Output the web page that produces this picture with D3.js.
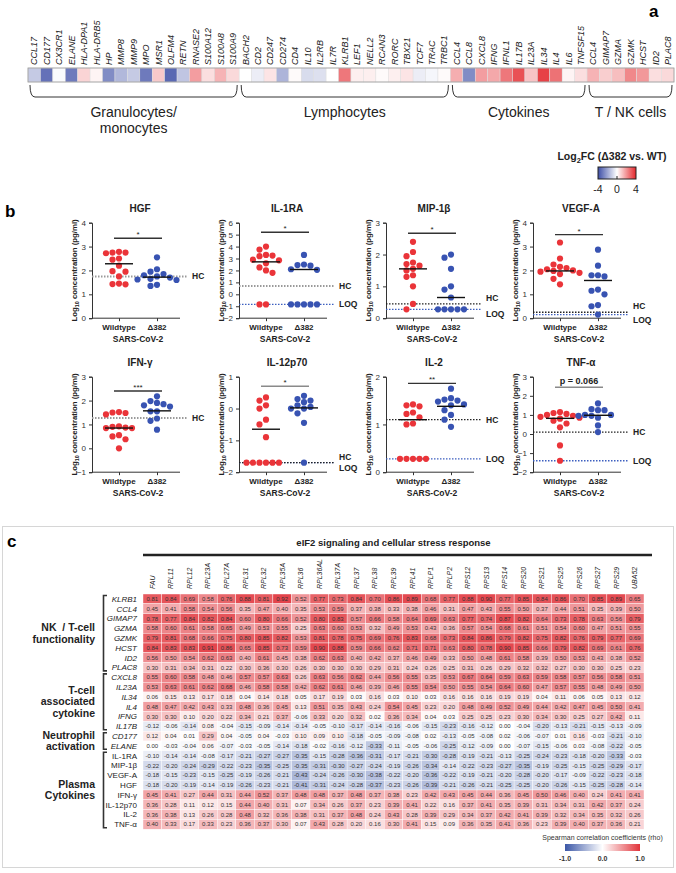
<!DOCTYPE html>
<html><head><meta charset="utf-8">
<script src="https://cdn.jsdelivr.net/npm/d3@7"></script>
<style>body{margin:0;background:#fff;} svg{display:block;font-family:"Liberation Sans",Arial,Helvetica,sans-serif;}</style>
</head><body>
<svg id="chart" width="676" height="873"></svg>
<script>
// ===================== DATA =====================
// ---- Panel a
const genesA = ["CCL17","CD177","CX3CR1","ELANE","HLA-DPA1","HLA-DRB5","HP","MMP8","MMP9","MPO","MSR1","OLFM4","RETN","RNASE2","S100A12","S100A8","S100A9",
  "BACH2","CD2","CD247","CD274","CD4","IL10","IL2RB","IL7R","KLRB1","LEF1","NELL2","RCAN3","RORC","TBX21","TCF7","TRAC","TRBC1",
  "CCL4","CCL8","CXCL8","IFNG","IFNL1","IL17B","IL23A","IL34","IL4","IL6","TNFSF15",
  "CCL4","GIMAP7","GZMA","GZMK","HCST","ID2","PLAC8"];
const log2fcA = [-1.2,-3.2,-0.1,-3.0,0.8,0.2,-2.6,-1.6,-1.2,-3.0,1.0,-3.4,-1.3,1.8,0.6,1.4,0.7,
  0.0,-0.4,0.5,-1.7,0.1,-0.8,-0.7,0.0,2.5,0.3,0.3,0.1,0.3,0.5,-0.4,-0.2,0.1,
  1.5,-2.6,1.8,1.6,2.5,3.2,1.1,3.5,2.6,0.2,0.6,
  1.4,0.9,1.2,2.2,1.9,0.6,0.7];
const groupNamesA = [["Granulocytes/","monocytes"],["Lymphocytes"],["Cytokines"],["T / NK cells"]];
const groupSizesA = [17,17,11,7];
const legendTicksA = [-4,0,4];

// ---- Panel b
const analytesB = ["HGF","IL-1RA","MIP-1β","VEGF-A","IFN-γ","IL-12p70","IL-2","TNF-α"];
const yMinB = [0,-2,0,0,-1,-2,0,-2];
const yMaxB = [4,6,3,4,3,1,2,3];
const categoriesB = ["Wildtype","Δ382"];
const wtB = [
  [2.75,2.78,2.72,2.75,2.45,2.5,2.2,1.97,1.95,1.75,1.42,1.45,1.43],
  [4.0,3.75,3.3,3.25,3.2,2.9,2.85,2.6,2.25,2.0,1.8,-0.85,-0.85],
  [2.4,2.08,1.95,1.75,1.7,1.65,1.55,1.5,1.35,1.3,1.0,0.45,0.28],
  [3.17,2.5,2.25,2.15,2.1,2.05,2.0,1.98,1.95,1.9,1.85,1.65,1.42],
  [1.52,1.48,1.5,1.42,0.92,0.87,0.85,0.85,0.9,0.55,0.5,0.38,0.0],
  [0.35,0.25,0.1,0.0,-0.35,-0.5,-0.9,-1.7,-1.7,-1.7,-1.7,-1.7,-1.7],
  [1.42,1.40,1.38,1.25,1.22,1.15,1.02,1.0,0.28,0.28,0.28,0.28,0.28],
  [1.15,1.1,1.05,1.0,0.95,0.9,0.85,0.8,0.7,0.55,0.35,-0.6,-1.4]
];
const d382B = [
  [2.55,2.05,1.95,1.85,1.8,1.75,1.7,1.65,1.62,1.6,1.35,1.4],
  [3.3,2.5,2.45,2.4,2.1,2.05,-0.85,-0.85,-0.85,-0.85,-0.85],
  [2.0,1.9,1.55,1.0,0.9,0.65,0.28,0.28,0.28,0.28,0.28],
  [2.87,2.2,1.8,1.8,1.75,1.2,1.15,1.0,0.55,0.5,0.15],
  [2.18,1.98,1.9,1.85,1.8,1.75,1.55,1.55,1.25,1.15,0.78],
  [0.4,0.3,0.25,0.2,0.1,0.05,0.0,0.0,-0.15,-0.45,-1.7],
  [1.75,1.55,1.52,1.5,1.48,1.42,1.4,1.3,1.2,1.1,0.95],
  [1.6,1.3,1.25,1.25,1.0,1.0,0.95,0.95,0.85,0.45,0.1]
];
const wtCenterB = [2.28,2.72,1.55,1.98,0.85,-0.65,1.1,0.82];
const d382CenterB = [1.72,2.08,0.65,1.58,1.57,0.02,1.38,0.98];
const hcB = [1.75,0.7,0.45,0.25,1.27,-1.7,1.1,0.1];
const loqB = [null,-0.85,0.28,0.15,null,-1.7,0.28,-1.4];
const sigTextB = ["*","*","*","*","***","*","**","p = 0.066"];
const sigYB = [3.35,5.2,2.67,3.5,2.4,0.7,1.86,2.45];

// ---- Panel c
const corrCols = ["FAU","RPL11","RPL12","RPL23A","RPL27A","RPL31","RPL32","RPL35A","RPL36","RPL36AL","RPL37A","RPL37","RPL38","RPL39","RPL41","RPLP1","RPLP2","RPS12","RPS13","RPS14","RPS20","RPS21","RPS25","RPS26","RPS27","RPS29","UBA52"];
const corrRows = ["KLRB1","CCL4","GIMAP7","GZMA","GZMK","HCST","ID2","PLAC8","CXCL8","IL23A","IL34","IL4","IFNG","IL17B","CD177","ELANE","IL-1RA","MIP-1β","VEGF-A","HGF","IFN-γ","IL-12p70","IL-2","TNF-α"];
const corrGroupNames = [["NK  / T-cell","functionality"],["T-cell","associated","cytokine"],["Neutrophil","activation"],["Plasma","Cytokines"]];
const corrGroupSizes = [8,6,2,8];
const corrValues = [
  [0.81,0.84,0.69,0.58,0.76,0.88,0.81,0.92,0.52,0.77,0.73,0.84,0.70,0.86,0.89,0.68,0.77,0.88,0.90,0.77,0.85,0.84,0.86,0.70,0.85,0.89,0.65],
  [0.45,0.41,0.58,0.54,0.56,0.35,0.47,0.40,0.35,0.53,0.59,0.37,0.38,0.33,0.38,0.46,0.31,0.47,0.43,0.55,0.50,0.37,0.44,0.51,0.35,0.39,0.50],
  [0.78,0.77,0.84,0.82,0.84,0.60,0.80,0.66,0.52,0.80,0.83,0.57,0.66,0.58,0.64,0.69,0.63,0.77,0.74,0.87,0.82,0.64,0.73,0.78,0.63,0.56,0.79],
  [0.58,0.60,0.61,0.58,0.65,0.49,0.53,0.55,0.25,0.63,0.60,0.53,0.32,0.49,0.53,0.43,0.36,0.57,0.54,0.68,0.61,0.51,0.54,0.60,0.47,0.51,0.55],
  [0.79,0.81,0.68,0.66,0.75,0.80,0.85,0.82,0.53,0.81,0.78,0.75,0.69,0.76,0.83,0.68,0.73,0.84,0.86,0.79,0.82,0.75,0.82,0.76,0.79,0.77,0.69],
  [0.84,0.83,0.83,0.91,0.86,0.65,0.85,0.73,0.59,0.90,0.88,0.59,0.66,0.62,0.71,0.71,0.63,0.80,0.78,0.90,0.85,0.66,0.79,0.82,0.69,0.61,0.76],
  [0.56,0.50,0.54,0.62,0.63,0.40,0.61,0.45,0.38,0.62,0.63,0.40,0.42,0.37,0.46,0.49,0.33,0.50,0.48,0.61,0.58,0.39,0.50,0.53,0.43,0.38,0.52],
  [0.30,0.31,0.34,0.31,0.22,0.30,0.36,0.30,0.26,0.30,0.30,0.30,0.29,0.31,0.24,0.26,0.25,0.31,0.26,0.29,0.32,0.32,0.27,0.30,0.30,0.25,0.23],
  [0.55,0.60,0.58,0.48,0.46,0.57,0.57,0.63,0.26,0.63,0.56,0.62,0.44,0.56,0.55,0.35,0.53,0.67,0.64,0.59,0.63,0.59,0.58,0.57,0.56,0.58,0.51],
  [0.53,0.63,0.61,0.62,0.68,0.46,0.58,0.58,0.42,0.62,0.61,0.46,0.39,0.46,0.55,0.54,0.50,0.55,0.54,0.64,0.60,0.47,0.57,0.55,0.48,0.49,0.50],
  [0.06,0.15,0.13,0.17,0.18,0.04,0.14,0.18,0.05,0.17,0.19,0.03,0.16,0.03,0.10,0.03,0.16,0.16,0.16,0.19,0.19,0.04,0.11,0.06,0.05,0.13,0.12],
  [0.48,0.47,0.42,0.43,0.33,0.48,0.36,0.45,0.13,0.51,0.35,0.43,0.24,0.54,0.45,0.23,0.20,0.48,0.49,0.52,0.49,0.44,0.42,0.47,0.45,0.50,0.41],
  [0.30,0.30,0.10,0.20,0.22,0.34,0.21,0.37,-0.06,0.33,0.20,0.32,0.02,0.36,0.34,0.04,0.03,0.25,0.25,0.23,0.30,0.34,0.30,0.25,0.27,0.42,0.11],
  [-0.12,-0.06,-0.14,0.08,-0.04,-0.15,-0.09,-0.14,-0.14,-0.05,-0.10,-0.17,-0.14,-0.16,-0.06,-0.15,-0.23,-0.16,-0.12,0.00,-0.04,-0.20,-0.13,-0.21,-0.15,-0.13,-0.09],
  [0.12,0.04,0.01,0.29,0.04,-0.05,0.04,-0.03,0.10,0.09,0.10,-0.18,-0.05,-0.09,-0.08,0.02,-0.13,-0.05,-0.08,0.02,-0.06,-0.07,0.01,0.16,-0.03,-0.21,-0.10],
  [0.00,-0.03,-0.04,0.06,-0.07,-0.03,-0.05,-0.14,-0.18,-0.02,-0.16,-0.12,-0.33,-0.11,-0.05,-0.06,-0.25,-0.12,-0.09,0.00,-0.07,-0.15,-0.06,0.03,-0.08,-0.22,-0.05],
  [-0.10,-0.14,-0.14,-0.08,-0.17,-0.21,-0.27,-0.27,-0.35,-0.15,-0.28,-0.36,-0.31,-0.17,-0.21,-0.30,-0.28,-0.19,-0.21,-0.13,-0.25,-0.24,-0.23,-0.18,-0.20,-0.33,-0.03],
  [-0.22,-0.20,-0.24,-0.29,-0.22,-0.23,-0.35,-0.25,-0.35,-0.31,-0.30,-0.27,-0.24,-0.19,-0.26,-0.34,-0.14,-0.22,-0.23,-0.27,-0.35,-0.19,-0.25,-0.15,-0.25,-0.29,-0.17],
  [-0.18,-0.15,-0.23,-0.15,-0.25,-0.19,-0.26,-0.21,-0.43,-0.24,-0.26,-0.30,-0.38,-0.22,-0.20,-0.36,-0.22,-0.19,-0.21,-0.20,-0.28,-0.20,-0.17,-0.09,-0.22,-0.23,-0.18],
  [-0.18,-0.20,-0.19,-0.14,-0.19,-0.26,-0.23,-0.21,-0.41,-0.31,-0.24,-0.28,-0.37,-0.23,-0.26,-0.39,-0.21,-0.26,-0.21,-0.25,-0.25,-0.20,-0.26,-0.15,-0.25,-0.28,-0.14],
  [0.45,0.41,0.27,0.44,0.31,0.44,0.52,0.37,0.48,0.48,0.37,0.48,0.37,0.38,0.23,0.42,0.43,0.45,0.44,0.36,0.45,0.50,0.46,0.40,0.24,0.41,0.41],
  [0.36,0.28,0.11,0.12,0.15,0.44,0.40,0.31,0.07,0.34,0.26,0.37,0.23,0.39,0.41,0.22,0.16,0.37,0.41,0.35,0.39,0.31,0.34,0.31,0.42,0.37,0.24],
  [0.36,0.38,0.13,0.26,0.28,0.48,0.32,0.36,0.38,0.31,0.37,0.48,0.24,0.43,0.28,0.39,0.29,0.34,0.37,0.42,0.41,0.39,0.32,0.34,0.35,0.32,0.26],
  [0.40,0.33,0.17,0.33,0.23,0.36,0.37,0.30,0.07,0.43,0.28,0.20,0.16,0.30,0.41,0.15,0.09,0.36,0.35,0.41,0.36,0.23,0.39,0.40,0.37,0.36,0.21]
];
const corrLegendTicks = [-1,0,1];

// ===================== DRAWING =====================
const svg = d3.select("#chart");
const defs = svg.append("defs");

// ---------- Panel a ----------
svg.append("text").attr("x",649).attr("y",17).attr("font-size",17).attr("font-weight","bold").text("a");
const gA = svg.append("g");
const xA = d3.scaleBand().domain(d3.range(genesA.length)).range([28,674]);
const cA = d3.scaleLinear().domain([-4,0,4]).range(["#3d4ea6","#ffffff","#e4262b"]).clamp(true);
const aTop = 68, aH = 14;
gA.selectAll("rect.cell").data(log2fcA).join("rect")
  .attr("x",(d,i)=>xA(i)).attr("y",aTop).attr("width",xA.bandwidth()).attr("height",aH)
  .attr("fill",d=>cA(d)).attr("stroke","#dedede").attr("stroke-width",0.5);
gA.append("rect").attr("x",xA.range()[0]).attr("y",aTop).attr("width",xA.range()[1]-xA.range()[0]).attr("height",aH)
  .attr("fill","none").attr("stroke","#9a9a9a").attr("stroke-width",0.8);
gA.selectAll("text.gene").data(genesA).join("text")
  .attr("transform",(d,i)=>`translate(${xA(i)+xA.bandwidth()/2+3.2},${aTop-3}) rotate(-90)`)
  .attr("font-size",9).attr("font-style","italic").attr("fill","#222").text(d=>d);
let cum = 0;
groupSizesA.forEach((n,gi)=>{
  const x0 = xA(cum)+2, x1 = xA(cum+n-1)+xA.bandwidth()-2;
  const yT = aTop+aH+3, yB = aTop+aH+15;
  gA.append("path").attr("d",`M${x0},${yT} Q${x0},${yB} ${x0+5},${yB} L${x1-5},${yB} Q${x1},${yB} ${x1},${yT}`)
    .attr("fill","none").attr("stroke","#333").attr("stroke-width",1);
  const cx = (x0+x1)/2;
  groupNamesA[gi].forEach((line,li)=>{
    gA.append("text").attr("x",cx).attr("y",117+li*16).attr("text-anchor","middle")
      .attr("font-size",14).attr("fill","#222").text(line);
  });
  cum += n;
});
const lgA = svg.append("g");
const lgx0 = 598, lgx1 = 636, lgy = 167, lgh = 12;
const gradA = defs.append("linearGradient").attr("id","gradA");
[-4,-2,0,2,4].forEach(v=>gradA.append("stop").attr("offset",((v+4)/8*100)+"%").attr("stop-color",cA(v)));
const lt = lgA.append("text").attr("x",612).attr("y",160).attr("text-anchor","middle").attr("font-size",10.5).attr("font-weight","bold").attr("fill","#222");
lt.append("tspan").text("Log");
lt.append("tspan").attr("font-size",7.5).attr("dy",3).text("2");
lt.append("tspan").attr("dy",-3).text("FC (Δ382 vs. WT)");
lgA.append("rect").attr("x",lgx0).attr("y",lgy).attr("width",lgx1-lgx0).attr("height",lgh).attr("fill","url(#gradA)").attr("stroke","#222").attr("stroke-width",1);
const xLgA = d3.scaleLinear().domain([-4,4]).range([lgx0,lgx1]);
lgA.append("line").attr("x1",xLgA(0)).attr("x2",xLgA(0)).attr("y1",lgy+lgh-3).attr("y2",lgy+lgh).attr("stroke","#222");
legendTicksA.forEach(t=>lgA.append("text").attr("x",xLgA(t)).attr("y",lgy+lgh+14).attr("text-anchor","middle").attr("font-size",10.5).attr("fill","#222").text(t));

// ---------- Panel b ----------
svg.append("text").attr("x",5).attr("y",217).attr("font-size",17).attr("font-weight","bold").text("b");
const axisXB = [92,239,386,533];
const rowTopB = [222.7,376.7];
const plotH = 95.5, plotW = 96, wtOff = 27, dOff = 65;
const greyHC = new Set(["HGF","IL-1RA","IFN-γ"]);
const greySig = new Set(["IL-12p70","TNF-α"]);
const RED = "#ea3439", BLUE = "#3853b2";

function dodge(vals, y, cx){
  const order = vals.map((v,i)=>({v,i})).sort((a,b)=>b.v-a.v);
  const placed = [], out = [];
  const offs = [0,-6.5,6.5,-13,13,-19.5,19.5,-26,26];
  order.forEach(o=>{
    const yy = y(o.v); let chosen = 0;
    for (const off of offs){ if (placed.every(p=>(p.x-(cx+off))**2+(p.y-yy)**2>=40)){chosen=off;break;} }
    placed.push({x:cx+chosen,y:yy}); out[o.i] = {x:cx+chosen,y:yy,v:o.v};
  });
  return out;
}

analytesB.forEach((name,i)=>{
  const ax = axisXB[i%4], top = rowTopB[Math.floor(i/4)], bot = top+plotH;
  const g = svg.append("g");
  const y = d3.scaleLinear().domain([yMinB[i],yMaxB[i]]).range([bot,top]);
  const xc = d3.scalePoint().domain(categoriesB).range([ax+wtOff, ax+dOff]);
  g.append("text").attr("x",ax+plotW/2).attr("y",top-11).attr("text-anchor","middle").attr("font-size",10).attr("font-weight","bold").attr("fill","#222").text(name);
  const yAxis = d3.axisLeft(y).tickValues(d3.range(yMinB[i],yMaxB[i]+0.001,1)).tickSize(3).tickFormat(d3.format("d"));
  const ya = g.append("g").attr("transform",`translate(${ax},0)`).call(yAxis);
  ya.select(".domain").attr("stroke","#333");
  ya.selectAll(".tick line").attr("stroke","#333");
  ya.selectAll(".tick text").attr("font-size",8).attr("fill","#333").attr("font-family",null);
  const xa = g.append("g").attr("transform",`translate(0,${bot})`).call(d3.axisBottom(xc).tickSize(3).tickFormat(""));
  xa.select(".domain").attr("d",`M${ax},0H${ax+plotW-8}`).attr("stroke","#333");
  xa.selectAll(".tick line").attr("stroke","#333");
  categoriesB.forEach(c=>g.append("text").attr("x",xc(c)).attr("y",bot+12).attr("text-anchor","middle").attr("font-size",8).attr("font-weight","bold").attr("fill","#222").text(c));
  g.append("text").attr("x",(xc("Wildtype")+xc("Δ382"))/2).attr("y",bot+24).attr("text-anchor","middle").attr("font-size",8.5).attr("font-weight","bold").attr("fill","#222").text("SARS-CoV-2");
  const yl = g.append("text").attr("transform",`translate(${ax-15},${(top+bot)/2}) rotate(-90)`).attr("text-anchor","middle").attr("font-size",7.8).attr("font-weight","bold").attr("fill","#222");
  yl.append("tspan").text("Log");
  yl.append("tspan").attr("font-size",5.5).attr("dy",2).text("10");
  yl.append("tspan").attr("dy",-2).text(" concentration (pg/ml)");
  const lineEnd = ax+plotW;
  const hcY = y(hcB[i]);
  const loqY = loqB[i]===null?null:y(loqB[i]);
  if (loqY!==null){
    g.append("line").attr("x1",ax).attr("x2",lineEnd).attr("y1",loqY).attr("y2",loqY).attr("stroke","#3d5fc0").attr("stroke-width",1.3).attr("stroke-dasharray","1.5,1.5");
  }
  g.append("line").attr("x1",ax).attr("x2",lineEnd).attr("y1",hcY).attr("y2",hcY)
    .attr("stroke",greyHC.has(name)?"#9a9a9a":"#222").attr("stroke-width",greyHC.has(name)?2:1.3).attr("stroke-dasharray","1.5,1.5");
  let hcLab = hcY, loqLab = loqY;
  if (loqY!==null && Math.abs(loqY-hcY)<11){ hcLab = Math.min(hcY,loqY)-6; loqLab = Math.max(hcY,loqY)+5; }
  g.append("text").attr("x",lineEnd+4).attr("y",hcLab+3).attr("font-size",8.5).attr("font-weight","bold").attr("fill","#222").text("HC");
  if (loqY!==null) g.append("text").attr("x",lineEnd+4).attr("y",loqLab+3).attr("font-size",8.5).attr("font-weight","bold").attr("fill","#222").text("LOQ");
  const ptsW = dodge(wtB[i], y, xc("Wildtype"));
  const ptsD = dodge(d382B[i], y, xc("Δ382"));
  g.selectAll("circle.w").data(ptsW).join("circle").attr("cx",d=>d.x).attr("cy",d=>d.y).attr("r",3.1).attr("fill",RED);
  g.selectAll("circle.d").data(ptsD).join("circle").attr("cx",d=>d.x).attr("cy",d=>d.y).attr("r",3.1).attr("fill",BLUE);
  [[wtCenterB[i],"Wildtype"],[d382CenterB[i],"Δ382"]].forEach(([v,c])=>{
    g.append("line").attr("x1",xc(c)-14).attr("x2",xc(c)+14).attr("y1",y(v)).attr("y2",y(v)).attr("stroke","#111").attr("stroke-width",1.4);
  });
  const sy = y(sigYB[i]);
  const sc = greySig.has(name)?"#8a8a8a":"#333";
  g.append("line").attr("x1",xc("Wildtype")-5).attr("x2",xc("Δ382")+5).attr("y1",sy).attr("y2",sy).attr("stroke",sc).attr("stroke-width",1.4);
  g.append("text").attr("x",(xc("Wildtype")+xc("Δ382"))/2).attr("y",sigTextB[i].startsWith("p")?sy-3:sy-1).attr("text-anchor","middle")
    .attr("font-size",sigTextB[i].startsWith("p")?9:8).attr("font-weight",sigTextB[i].startsWith("p")?"bold":"normal").attr("fill","#222").text(sigTextB[i]);
});

// ---------- Panel c ----------
svg.append("rect").attr("x",2.5).attr("y",526.5).attr("width",671).attr("height",341).attr("fill","none").attr("stroke","#d6d6d6").attr("stroke-width",1);
svg.append("text").attr("x",7).attr("y",547).attr("font-size",17).attr("font-weight","bold").text("c");
const xC = d3.scaleBand().domain(corrCols).range([143,644]);
const yC = d3.scaleBand().domain(corrRows).range([594,829.2]);
const cC = d3.scaleLinear().domain([-1,0,1]).range(["#3b57a7","#ffffff","#e1343b"]).clamp(true);
const gC = svg.append("g");
gC.append("text").attr("x",(xC.range()[0]+xC.range()[1])/2).attr("y",546).attr("text-anchor","middle").attr("font-size",9.5).attr("font-weight","bold").attr("fill","#222").text("eIF2 signaling and cellular stress response");
gC.append("line").attr("x1",xC.range()[0]).attr("x2",xC.range()[1]+8).attr("y1",555).attr("y2",555).attr("stroke","#222").attr("stroke-width",2.5);
gC.selectAll("text.col").data(corrCols).join("text")
  .attr("transform",d=>`translate(${xC(d)+xC.bandwidth()/2+2.5},589) rotate(-90)`)
  .attr("font-size",7).attr("font-style","italic").attr("fill","#222").text(d=>d);
const cells = [];
corrValues.forEach((row,ri)=>row.forEach((v,ci)=>cells.push({r:corrRows[ri],c:corrCols[ci],v})));
gC.selectAll("rect.cc").data(cells).join("rect")
  .attr("x",d=>xC(d.c)).attr("y",d=>yC(d.r)).attr("width",xC.bandwidth()).attr("height",yC.bandwidth())
  .attr("fill",d=>cC(d.v)).attr("stroke","#fff").attr("stroke-width",0.4);
gC.selectAll("text.cv").data(cells).join("text")
  .attr("x",d=>xC(d.c)+xC.bandwidth()/2).attr("y",d=>yC(d.r)+yC.bandwidth()/2+2.1)
  .attr("text-anchor","middle").attr("font-size",6).attr("fill","#333").text(d=>d.v.toFixed(2));
const italicRows = corrRows.slice(0, corrGroupSizes[0]+corrGroupSizes[1]+corrGroupSizes[2]);
gC.selectAll("text.rl").data(corrRows).join("text")
  .attr("x",137).attr("y",d=>yC(d)+yC.bandwidth()/2+2.8).attr("text-anchor","end")
  .attr("font-size",8).attr("font-style",d=>italicRows.includes(d)?"italic":"normal").attr("fill","#222").text(d=>d);
let rc = 0;
corrGroupSizes.forEach((n,gi)=>{
  const y0 = yC(corrRows[rc])+1.5, y1 = yC(corrRows[rc+n-1])+yC.bandwidth()-1.5;
  gC.append("path").attr("d",`M107,${y0} H103.5 V${y1} H107`).attr("fill","none").attr("stroke","#333").attr("stroke-width",1.6);
  const lines = corrGroupNames[gi];
  const cy = (y0+y1)/2, lh = 11.7;
  lines.forEach((l,li)=>{
    gC.append("text").attr("x",95).attr("y",cy+(li-(lines.length-1)/2)*lh+3.6).attr("text-anchor","end")
      .attr("font-size",10.5).attr("font-weight","bold").attr("fill","#222").attr("xml:space","preserve").text(l);
  });
  rc += n;
});
const gradC = defs.append("linearGradient").attr("id","gradC");
[-1,-0.5,0,0.5,1].forEach(v=>gradC.append("stop").attr("offset",((v+1)/2*100)+"%").attr("stop-color",cC(v)));
const lcx0 = 565, lcx1 = 640;
const xLgC = d3.scaleLinear().domain([-1,1]).range([lcx0,lcx1]);
gC.append("text").attr("x",(lcx0+lcx1)/2).attr("y",840).attr("text-anchor","middle").attr("font-size",7).attr("fill","#333").text("Spearman correlation coefficients (rho)");
gC.append("rect").attr("x",lcx0).attr("y",844).attr("width",lcx1-lcx0).attr("height",7).attr("fill","url(#gradC)");
corrLegendTicks.forEach(t=>gC.append("text").attr("x",xLgC(t)).attr("y",861).attr("text-anchor","middle").attr("font-size",7).attr("font-weight","bold").attr("fill","#333").text(t.toFixed(1)));
</script>
</body></html>
